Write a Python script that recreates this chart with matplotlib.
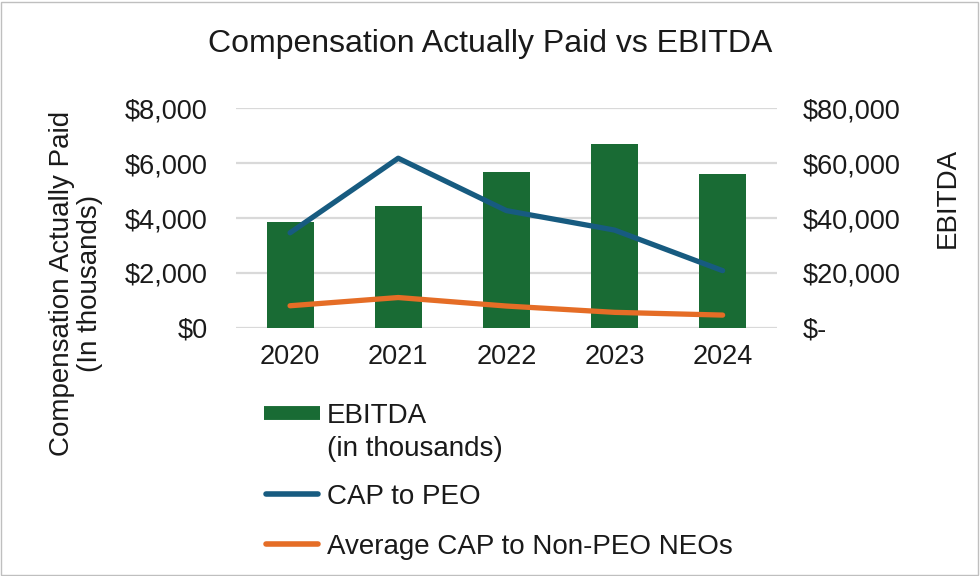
import numpy as np
import matplotlib.pyplot as plt
from matplotlib.ticker import FuncFormatter
from matplotlib.lines import Line2D

plt.rcParams['font.family'] = ['Liberation Sans', 'DejaVu Sans']

years = ['2020', '2021', '2022', '2023', '2024']
ebitda = [38400, 44400, 56800, 67000, 56000]      # right axis, thousands
cap_peo = [3460, 6180, 4270, 3560, 2080]           # left axis, thousands
cap_neo = [800, 1100, 790, 560, 460]

green = '#196b34'
blue = '#175b80'
orange = '#e56d26'
txt = '#1a1a1a'

W, H = 980, 576
fig = plt.figure(figsize=(W / 100, H / 100), dpi=100)
ax = fig.add_axes([236 / W, 1 - 327.7 / H, 540.7 / W, 219.4 / H])
ax2 = ax.twinx()

x = np.arange(len(years))
ax2.bar(x, ebitda, width=0.435, color=green, zorder=2)
ax.plot(x, cap_peo, color=blue, lw=3.8, solid_capstyle='round', solid_joinstyle='round')
ax.plot(x, cap_neo, color=orange, lw=3.8, solid_capstyle='round', solid_joinstyle='round')

# lines on top of bars
ax.set_zorder(ax2.get_zorder() + 1)
ax.patch.set_visible(False)

ax.set_xlim(-0.5, 4.5)
ax.set_ylim(0, 8000)
ax2.set_ylim(0, 80000)
ax.set_yticks(range(0, 8001, 2000))
ax2.set_yticks(range(0, 80001, 20000))
ax.yaxis.set_major_formatter(FuncFormatter(lambda v, p: f'${v:,.0f}'))
ax2.yaxis.set_major_formatter(FuncFormatter(lambda v, p: '$-' if v == 0 else f'${v:,.0f}'))
ax.set_xticks(x)
ax.set_xticklabels(years)

for a in (ax, ax2):
    for s in a.spines.values():
        s.set_visible(False)
    a.tick_params(length=0, labelsize=19.5, colors=txt)
ax.tick_params(axis='y', pad=20.5)
ax2.tick_params(axis='y', pad=19)
ax.tick_params(axis='x', pad=12)

# gridlines behind the bars
for v in range(0, 80001, 20000):
    ax2.axhline(v, color='#d9d9d9', lw=1.6, zorder=0)

fig.text(0.5, 1 - 51.7 / H, 'Compensation Actually Paid vs EBITDA', ha='center', va='baseline',
         fontsize=23, color=txt)
fig.text(76 / W, 1 - 283 / H, 'Compensation Actually Paid\n(In thousands)', rotation=90,
         ha='center', va='center', multialignment='center', fontsize=20, color=txt, linespacing=1.1)
fig.text(947.5 / W, 1 - 198 / H, 'EBITDA', rotation=90, ha='center', va='center',
         fontsize=20, color=txt)

# legend, drawn by hand so the bar key sits on the first text line
keys = [('EBITDA', green, 413, 'patch'),
        ('CAP to PEO', blue, 494, 'line'),
        ('Average CAP to Non-PEO NEOs', orange, 544, 'line')]
for label, col, py, kind in keys:
    if kind == 'patch':
        fig.add_artist(Line2D([264 / W, 320 / W], [1 - py / H] * 2, color=col, lw=10,
                              solid_capstyle='butt', transform=fig.transFigure))
    else:
        fig.add_artist(Line2D([266 / W, 318 / W], [1 - py / H] * 2, color=col, lw=4,
                              solid_capstyle='round', transform=fig.transFigure))
    fig.text(327 / W, 1 - py / H, label, ha='left', va='center_baseline', fontsize=20, color=txt)
fig.text(327 / W, 1 - 446 / H, '(in thousands)', ha='left', va='center_baseline', fontsize=20, color=txt)

fig.patches.append(plt.Rectangle((0.001, 0.002), 0.997, 0.995, transform=fig.transFigure,
                                 fill=False, edgecolor='#bfbfbf', lw=1))

fig.savefig('out.png', dpi=100)
